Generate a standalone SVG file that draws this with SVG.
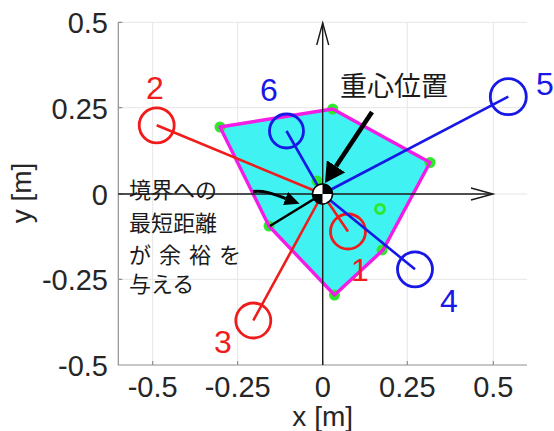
<svg xmlns="http://www.w3.org/2000/svg" width="554" height="431" viewBox="0 0 554 431">
<defs>
<style>
.grid{stroke:#e6e6e6;stroke-width:1;fill:none}
.ax{stroke:#8f8f8f;stroke-width:1.2;fill:none}
.tick{font-family:"Liberation Sans",Arial,sans-serif;font-size:29px;fill:#262626}
.axlab{font-family:"Liberation Sans",Arial,sans-serif;font-size:28px;fill:#262626}
.blk{stroke:#1a1a1a;stroke-width:1.4;fill:none}
.red{stroke:#f01c1c;fill:none}
.blue{stroke:#1717e6;fill:none}
.leg{stroke-width:2.6}
.foot{stroke-width:2.8}
.lr{font-family:"Liberation Sans",Arial,sans-serif;font-size:32px;fill:#f01c1c}
.lb{font-family:"Liberation Sans",Arial,sans-serif;font-size:32px;fill:#1717e6}
.dot{fill:#2ee82e}
.jp{font-family:"Noto Sans CJK JP","Noto Sans CJK SC",sans-serif;fill:#1a1a1a}
</style>
<marker id="bigHead" viewBox="0 0 20 22" refX="0" refY="11" markerWidth="20" markerHeight="22" markerUnits="userSpaceOnUse" orient="auto">
<path d="M0,0 L20,11 L0,22 Z" fill="#000"/>
</marker>
<marker id="smallHead" viewBox="0 0 15 14" refX="0" refY="7" markerWidth="15" markerHeight="14" markerUnits="userSpaceOnUse" orient="auto">
<path d="M0,0 L15,7 L0,14 Z" fill="#000"/>
</marker>
</defs>
<rect width="554" height="431" fill="#fff"/>

<g id="grid">
<path class="grid" d="M152.7,22.3V365 M237.7,22.3V365 M322.7,22.3V365 M407.3,22.3V365 M493.3,22.3V365 M118.3,22.3H527 M118.3,107.7H527 M118.3,194H527 M118.3,279.3H527"/>
</g>

<g id="axes">
<path class="ax" d="M118.3,22.3V365H527"/>
<path class="ax" d="M118.3,22.3h4 M118.3,107.7h4 M118.3,194h4 M118.3,279.3h4 M152.7,365v-4 M237.7,365v-4 M322.7,365v-4 M407.3,365v-4 M493.3,365v-4"/>
<g class="tick" text-anchor="end">
<text x="108" y="33">0.5</text>
<text x="108" y="118.5">0.25</text>
<text x="108" y="204.5">0</text>
<text x="108" y="290">-0.25</text>
<text x="108" y="376">-0.5</text>
</g>
<g class="tick" text-anchor="middle">
<text x="152.7" y="396.5">-0.5</text>
<text x="237.7" y="396.5">-0.25</text>
<text x="322.7" y="396.5">0</text>
<text x="407.3" y="396.5">0.25</text>
<text x="493.3" y="396.5">0.5</text>
</g>
<text class="axlab" x="322.7" y="425.5" text-anchor="middle" font-size="25.5">x [m]</text>
<text class="axlab" transform="translate(31,193) rotate(-90)" text-anchor="middle">y [m]</text>
</g>

<g id="support-polygon">
<polygon points="220,127 332.7,109 430,162.5 383,250 334.5,295 269,226" fill="#40f2f2"/>
<g class="dot">
<circle cx="220" cy="127" r="5.5"/>
<circle cx="332.7" cy="109" r="5.5"/>
<circle cx="430" cy="162.5" r="5.5"/>
<circle cx="382" cy="250" r="5.5"/>
<circle cx="334.5" cy="295" r="5.5"/>
<circle cx="269" cy="226" r="5.5"/>
<circle cx="317" cy="181" r="5.5"/>
</g>
<circle cx="380" cy="209" r="4.5" fill="none" stroke="#2ee82e" stroke-width="3"/>
<polygon points="220,127 332.7,109 430,162.5 383,250 334.5,295 269,226" fill="none" stroke="#f21ce6" stroke-width="3.4" stroke-linejoin="round"/>
</g>

<g id="body-axes">
<path class="blk" d="M118.3,194H493 M322.7,365V23"/>
<path class="blk" d="M471,188 L493,194 L471,200 M316.7,45 L322.7,23 L328.7,45"/>
</g>

<g id="leg1">
<line class="red leg" x1="322.5" y1="194" x2="348" y2="231.5"/>
<circle class="red foot" cx="348" cy="231.5" r="17.5"/>
<text class="lr" x="360" y="281" text-anchor="middle">1</text>
</g>
<g id="leg2">
<line class="red leg" x1="322.5" y1="194" x2="156.7" y2="125.3"/>
<circle class="red foot" cx="156.7" cy="125.3" r="17.5"/>
<text class="lr" x="155" y="99" text-anchor="middle">2</text>
</g>
<g id="leg3">
<line class="red leg" x1="322.5" y1="194" x2="253.3" y2="320.5"/>
<circle class="red foot" cx="253.3" cy="320.5" r="17.5"/>
<text class="lr" x="223" y="353" text-anchor="middle">3</text>
</g>
<g id="leg4">
<line class="blue leg" x1="322.5" y1="194" x2="415" y2="269.3"/>
<circle class="blue foot" cx="415" cy="269.3" r="17.5"/>
<text class="lb" x="449" y="311.5" text-anchor="middle">4</text>
</g>
<g id="leg5">
<line class="blue leg" x1="322.5" y1="194" x2="508.3" y2="96.7"/>
<circle class="blue foot" cx="508.3" cy="96.7" r="18"/>
<text class="lb" x="536" y="95">5</text>
</g>
<g id="leg6">
<line class="blue leg" x1="322.5" y1="194" x2="286.5" y2="131"/>
<circle class="blue foot" cx="286.5" cy="131" r="17"/>
<text class="lb" x="269" y="101" text-anchor="middle">6</text>
</g>

<g id="connectors">
<line x1="318" y1="196.5" x2="270" y2="226" stroke="#000" stroke-width="2.6"/>
<line x1="372" y1="112" x2="336" y2="166.3" stroke="#000" stroke-width="4.6" marker-end="url(#bigHead)"/>
<path d="M253,191.5 C265,190 276,195 285.5,198.5" fill="none" stroke="#000" stroke-width="3" marker-end="url(#smallHead)"/>
</g>

<g id="centroid">
<circle cx="322.5" cy="194" r="10" fill="#fff" stroke="#000" stroke-width="1.5"/>
<path d="M322.5,194 L322.5,184 A10,10 0 0 1 332.5,194 Z M322.5,194 L322.5,204 A10,10 0 0 1 312.5,194 Z" fill="#000"/>
</g>

<g id="label-centroid">
<text class="jp" x="340" y="96" font-size="27">重心位置</text>
</g>

<g id="label-margin" class="jp" font-size="22">
<text x="129" y="198">境界への</text>
<text x="129" y="230.5">最短距離</text>
<text x="129 144 159 174 189 204 219" y="262.5">が 余 裕 を</text>
<text x="129" y="292">与える</text>
</g>
</svg>
